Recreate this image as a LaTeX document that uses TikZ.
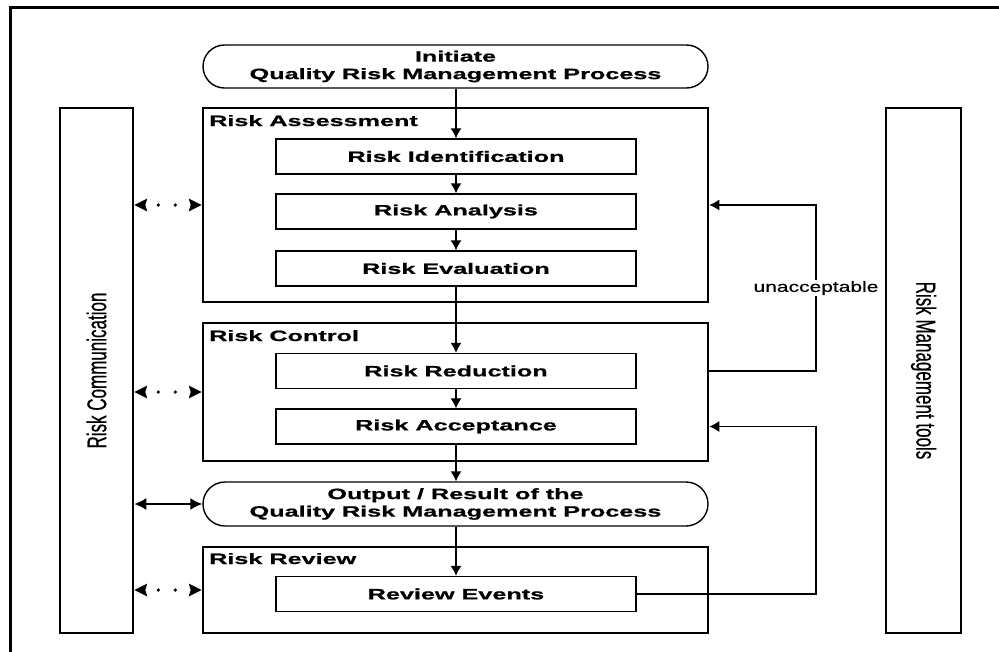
\documentclass[tikz,border=0pt]{standalone}
\usepackage{fontspec}
\usepackage{graphicx}
\setmainfont{Liberation Sans}
\newfontfamily\widefont[FakeStretch=1.68,FakeBold=0.8]{Liberation Sans}
\newfontfamily\midfont[FakeStretch=1.4,FakeBold=0.6]{Liberation Sans}
\newfontfamily\sidefont[FakeBold=0.6]{Liberation Sans}
\usetikzlibrary{arrows.meta,shapes.misc}
\begin{document}
\begin{tikzpicture}[x=1pt,y=-1pt,
  big/.style={draw, line width=2.6pt, inner sep=0pt, minimum width=505pt},
  col/.style={draw, line width=2.6pt, inner sep=0pt, minimum height=525pt},
  inbox/.style={draw, line width=1.4pt, minimum width=360pt, minimum height=35pt, inner sep=0pt,
    font={\widefont\bfseries\fontsize{15}{18}\selectfont}},
  pill/.style={draw, rounded rectangle, line width=1.4pt, minimum width=505pt, minimum height=43pt,
    inner sep=0pt, align=center, font={\widefont\bfseries\fontsize{15}{17.5}\selectfont}},
  ttl/.style={anchor=base west, inner sep=0pt, font={\widefont\bfseries\fontsize{15}{18}\selectfont}},
  flow/.style={-{Latex[length=10pt,width=11pt]}, line width=1.2pt},
  comm/.style={{Latex[length=12pt,width=12pt]}-{Latex[length=12pt,width=12pt]}, line width=1.6pt},
  vtext/.style={inner sep=0pt, font={\sidefont\fontsize{17}{20}\selectfont}}
]
\useasboundingbox (0,0) rectangle (999,651);
% outer frame
\draw[line width=3pt] (10,660) -- (10,7) -- (1010,7);

% main nodes
\node[pill] (init) at (455.5,66.5) {Initiate\\Quality Risk Management Process};
\node[big, minimum height=194pt] (ra) at (455.5,205) {};
\node[ttl] (rat) at (209,126) {Risk Assessment};
\node[inbox] (rid) at (456,156.5) {Risk Identification};
\node[inbox] (ran) at (456,211.5) {Risk Analysis};
\node[inbox] (rev) at (456,268.5) {Risk Evaluation};

\node[big, minimum height=138pt] (rc) at (455.5,392) {};
\node[ttl] (rct) at (209,341) {Risk Control};
\node[inbox] (rred) at (456,371) {Risk Reduction};
\node[inbox] (racc) at (456,426.5) {Risk Acceptance};

\node[pill, minimum height=44pt] (out) at (455.5,504) {Output / Result of the\\Quality Risk Management Process};

\node[big, minimum height=86pt] (rr) at (455.5,590) {};
\node[ttl] (rrt) at (209,564) {Risk Review};
\node[inbox] (revt) at (456,594) {Review Events};

% side columns
\node[col, minimum width=73pt] (cm) at (96.5,370.5) {};
\node[vtext, rotate=90] (cmt) at (cm.center) {\scalebox{1}[1.6]{Risk Communication}};
\node[col, minimum width=75pt] (tl) at (923.5,370.5) {};
\node[vtext, rotate=-90] (tlt) at (tl.center) {\scalebox{1}[1.6]{Risk Management tools}};

% main flow
\draw[flow] (init.south -| rid.north) -- (rid.north);
\draw[flow] (rid) -- (ran);
\draw[flow] (ran) -- (rev);
\draw[flow] (rev) -- (rred);
\draw[flow] (rred) -- (racc);
\draw[flow] (racc.south) -- (out.north -| racc.south);
\draw[flow] (out.south -| revt.north) -- (revt.north);

% feedback loops
\coordinate (fx) at (816,0);
\draw[flow] (rred.center -| rc.east) -- (rred.center -| fx) -- (ra.center -| fx) -- (ra.east);
\node[fill=white, inner sep=1pt, font={\midfont\fontsize{15}{18}\selectfont}] (unacc) at (816,288) {unacceptable};
\draw[flow] (revt.east) -- (revt.east -| fx) -- (racc.center -| fx) -- (racc.center -| rc.east);

% communication arrows (dotted)
\foreach \b in {ra,rc,rr}{
  \fill[shift={(cm.east |- \b.west)}] (0,0) -- (13,-6.5) -- (11,0) -- (13,6.5) -- cycle;
  \fill[shift={(\b.west)}] (0,0) -- (-13,-6.5) -- (-11,0) -- (-13,6.5) -- cycle;
  \fill[shift={(cm.east |- \b.west)}] (24,0) circle (1.8) (41,0) circle (1.8);
}
\draw[comm] (cm.east |- out.west) -- (out.west);
\end{tikzpicture}
\end{document}
